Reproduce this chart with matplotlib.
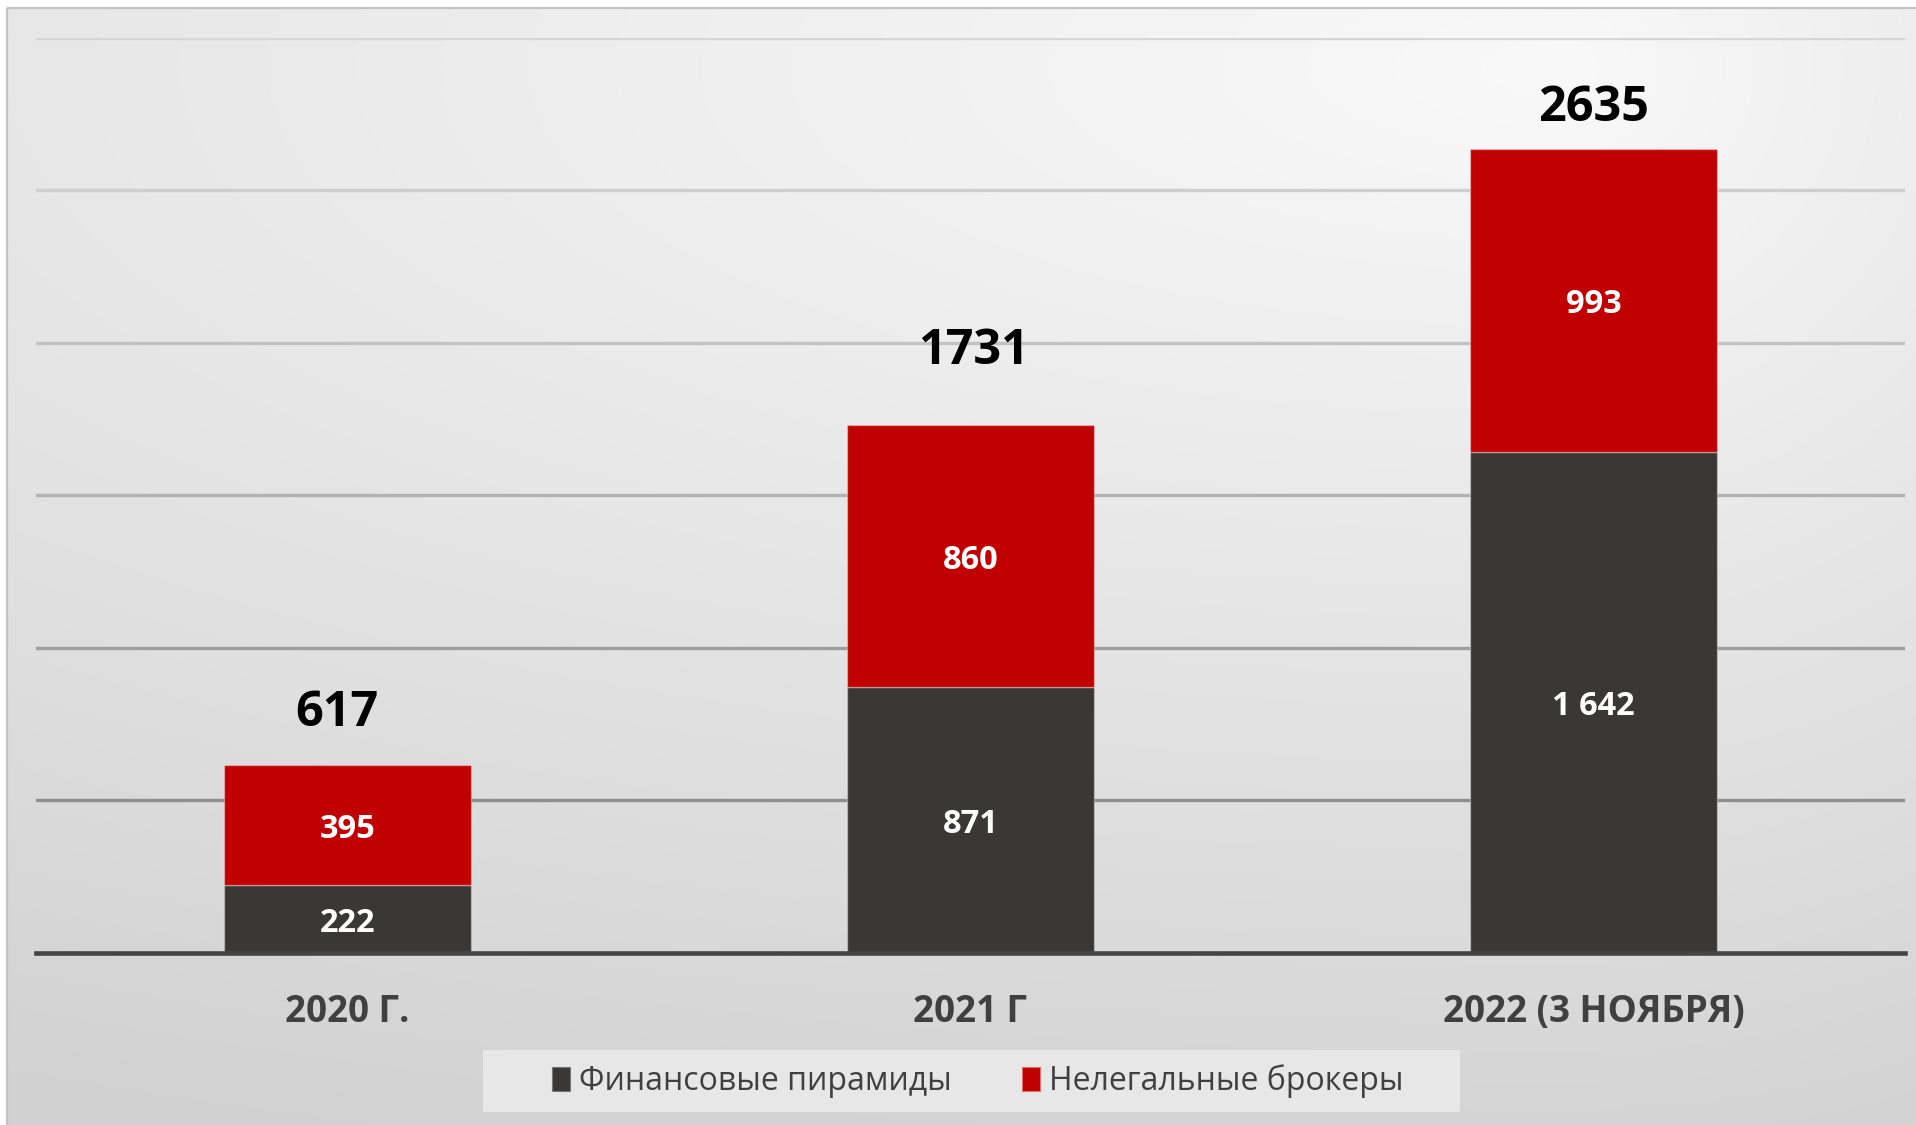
import numpy as np
import matplotlib
matplotlib.use("Agg")
import matplotlib.pyplot as plt
from matplotlib.patches import Patch, Rectangle

# ---------------- data ----------------
categories = ['2020 Г.', '2021 Г', '2022 (3 НОЯБРЯ)']
series_names = ['Финансовые пирамиды', 'Нелегальные брокеры']
pyramids = [222, 871, 1642]
brokers = [395, 860, 993]
totals = [617, 1731, 2635]
y_max = 3000
y_step = 500

# ---------------- style ----------------
W, H, DPI = 1916, 1125, 100
col_dark = '#3a3836'
col_red = '#c00000'
txt_dark = '#404040'
grid_colors = ['#8e8e8e', '#9e9e9e', '#b2b2b2', '#c2c2c2', '#cecece', '#d6d6d6']
total_offsets_pt = [(-8, 37), (2, 53), (0, 29.5)]
plt.rcParams['font.family'] = ['Open Sans', 'DejaVu Sans']

fig = plt.figure(figsize=(W / DPI, H / DPI), dpi=DPI, facecolor='white')

# background panel with soft gradient
bg = fig.add_axes([0, 0, 1, 1], zorder=-10)
bg.set_xlim(0, W)
bg.set_ylim(H, 0)
bg.axis('off')
xx, yy = np.meshgrid(np.arange(0, W, 2), np.arange(0, H, 2))
cx, cy = 1550, 60
dx = xx - cx
dy = yy - cy
sx = np.where(dx < 0, 1550 / 18.0, 366 / 12.0)
sy = 1060 / 37.0
delta = np.sqrt((dx / sx) ** 2 + (dy / sy) ** 2)
delta = np.clip(delta, 0, 40)
v = (249 - delta) / 255.0
img = np.dstack([v, v, v])
bg.imshow(img, extent=[7, W + 20, H + 20, 7], aspect='auto', interpolation='bilinear')
bg.add_patch(Rectangle((7.5, 7.5), W + 20, H + 20, fill=False, edgecolor='#c2c2c2', linewidth=1.6))

# legend box
bg.add_patch(Rectangle((483, 1050), 977, 62, facecolor='#e7e7e7', edgecolor='none'))

# main axes
ax = fig.add_axes([36 / W, (H - 953) / H, (1905 - 36) / W, (953 - 37.7) / H])
ax.set_facecolor('none')
x = np.arange(len(categories))
bw = 0.397
b1 = ax.bar(x, pyramids, bw, color=col_dark, edgecolor=(1, 1, 1, 0.35), linewidth=1.0, zorder=3,
            label=series_names[0])
b2 = ax.bar(x, brokers, bw, bottom=pyramids, color=col_red, edgecolor=(1, 1, 1, 0.35), linewidth=1.0,
            zorder=3, label=series_names[1])

fmt = lambda n: '{:,}'.format(n).replace(',', ' ')
for xi, p, b in zip(x, pyramids, brokers):
    ax.annotate(fmt(p), (xi, p / 2), xytext=(0, -3), textcoords='offset points', ha='center',
                va='center', color='white', fontsize=23.5, fontweight='bold', zorder=5)
    ax.annotate(fmt(b), (xi, p + b / 2), xytext=(0, -3), textcoords='offset points', ha='center',
                va='center', color='white', fontsize=23.5, fontweight='bold', zorder=5)
for xi, t, off in zip(x, totals, total_offsets_pt):
    ax.annotate(str(t), (xi, t), xytext=off, textcoords='offset points', ha='center',
                va='center', fontsize=35, fontweight='bold', color='black')

ax.set_xlim(-0.5, len(categories) - 0.5)
ax.set_ylim(0, y_max)
ax.set_yticks(np.arange(0, y_max + 1, y_step))
ax.set_yticklabels([])
ax.tick_params(axis='y', length=0)
ax.set_xticks(x)
ax.set_xticklabels(categories, fontsize=26.5, fontweight='bold', color=txt_dark)
ax.tick_params(axis='x', length=0, pad=29)
ax.grid(axis='y', linewidth=2.4, zorder=0)
ax.set_axisbelow(True)
for i, gl in enumerate(ax.get_ygridlines()):
    if i == 0:
        gl.set_visible(False)
    else:
        gl.set_color(grid_colors[min(i - 1, len(grid_colors) - 1)])
for s in ['top', 'left', 'right']:
    ax.spines[s].set_visible(False)
ax.spines['bottom'].set_color('#444444')
ax.spines['bottom'].set_linewidth(3.3)
ax.spines['bottom'].set_zorder(4)

handles = [Patch(facecolor=col_dark, edgecolor='#777777', linewidth=0.8),
           Patch(facecolor=col_red, edgecolor='#e07070', linewidth=0.8)]
leg = fig.legend(handles, series_names, loc='center', bbox_to_anchor=(978 / W, 1 - 1081 / H),
                 ncol=2, frameon=False, fontsize=23, handlelength=0.55, handleheight=0.8,
                 handletextpad=0.3, columnspacing=2.2, labelcolor=txt_dark)

fig.savefig('out.png', dpi=DPI, facecolor=fig.get_facecolor())
